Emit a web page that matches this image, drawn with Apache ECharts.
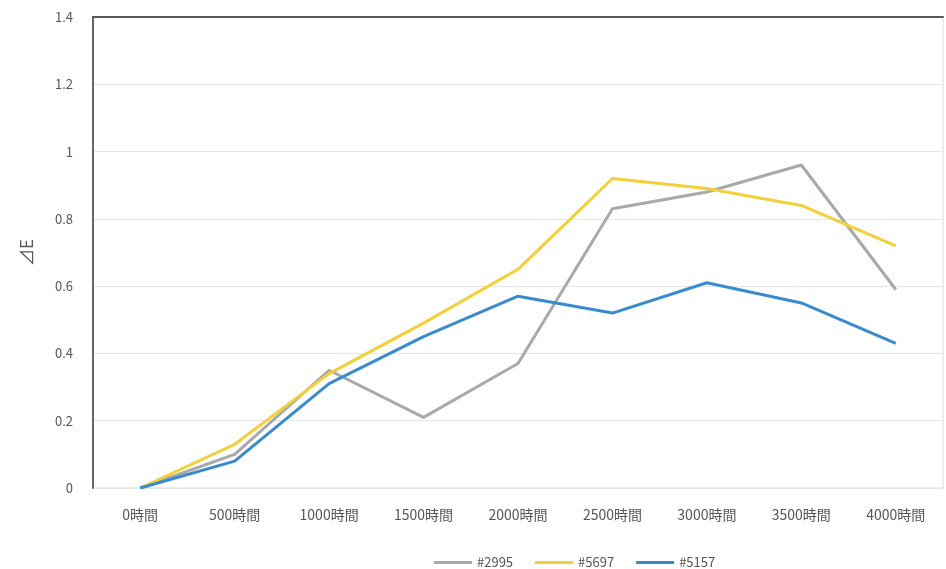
<!DOCTYPE html>
<html>
<head>
<meta charset="utf-8">
<script src="https://cdn.jsdelivr.net/npm/echarts@6/dist/echarts.min.js"></script>
<style>
html,body{margin:0;padding:0;background:#fff;}
#main{width:946px;height:569px;}
</style>
</head>
<body>
<div id="main"></div>
<script>
var categories = ['0時間', '500時間', '1000時間', '1500時間', '2000時間', '2500時間', '3000時間', '3500時間', '4000時間'];
var s2995 = [0, 0.1, 0.35, 0.21, 0.37, 0.83, 0.88, 0.96, 0.59];
var s5697 = [0, 0.13, 0.34, 0.49, 0.65, 0.92, 0.89, 0.84, 0.72];
var s5157 = [0, 0.08, 0.31, 0.45, 0.57, 0.52, 0.61, 0.55, 0.43];
var yTicks = [0, 0.2, 0.4, 0.6, 0.8, 1, 1.2, 1.4];

var chart = echarts.init(document.getElementById('main'));
var font = '"Noto Sans CJK JP", "Noto Sans", sans-serif';
var option = {
    backgroundColor: '#fff',
    animation: false,
    textStyle: {fontFamily: font},
    grid: {
        left: 93,
        right: 3,
        top: 17,
        bottom: 81,
        outerBoundsMode: 'none',
        containLabel: false,
        show: true,
        borderColor: '#d8d8d8',
        borderWidth: 1
    },
    legend: {
        left: 429,
        top: 551,
        itemWidth: 38,
        itemHeight: 3,
        itemGap: 22,
        icon: 'rect',
        textStyle: {color: '#555', fontSize: 13, fontFamily: font},
        data: ['#2995', '#5697', '#5157']
    },
    xAxis: [{
        type: 'category',
        data: categories,
        boundaryGap: true,
        axisLine: {show: false},
        axisTick: {show: false},
        axisLabel: {color: '#555', fontSize: 14, margin: 20, fontFamily: font}
    }, {
        type: 'category',
        position: 'top',
        data: categories,
        axisLine: {show: true, lineStyle: {color: '#555', width: 2}},
        axisTick: {show: false},
        axisLabel: {show: false}
    }],
    yAxis: {
        type: 'value',
        min: yTicks[0],
        max: yTicks[yTicks.length - 1],
        interval: 0.2,
        name: '⊿E',
        nameLocation: 'middle',
        nameGap: 58,
        nameRotate: 90,
        nameTextStyle: {color: '#555', fontSize: 17},
        axisLine: {show: true, lineStyle: {color: '#666', width: 2}},
        axisTick: {show: false},
        axisLabel: {color: '#555', fontSize: 13, margin: 20},
        splitLine: {lineStyle: {color: '#e6e6e6'}}
    },
    series: [{
        name: '#2995',
        type: 'line',
        data: s2995,
        symbol: 'none',
        lineStyle: {width: 3, color: '#a9a9a9'},
        itemStyle: {color: '#a9a9a9'}
    }, {
        name: '#5697',
        type: 'line',
        data: s5697,
        symbol: 'none',
        lineStyle: {width: 3, color: '#f2d03c'},
        itemStyle: {color: '#f2d03c'}
    }, {
        name: '#5157',
        type: 'line',
        data: s5157,
        symbol: 'none',
        lineStyle: {width: 3, color: '#3a8bcc'},
        itemStyle: {color: '#3a8bcc'}
    }]
};
chart.setOption(option);
</script>
</body>
</html>
